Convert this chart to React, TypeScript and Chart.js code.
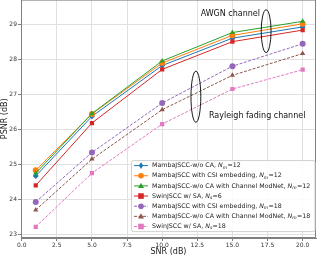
import React, { useEffect, useRef } from "react";
import { Chart, registerables } from "chart.js";
Chart.register(...registerables);

const snr = [1, 5, 10, 15, 20];
const mambaNoCA12 = [24.68, 26.38, 27.83, 28.61, 28.93];
const mambaCSI12 = [24.84, 26.45, 27.9, 28.69, 29.02];
const mambaModNet12 = [24.76, 26.46, 27.96, 28.77, 29.09];
const swin6 = [24.41, 26.19, 27.72, 28.51, 28.84];
const mambaCSI18 = [23.94, 25.35, 26.76, 27.81, 28.45];
const mambaModNet18 = [23.71, 25.16, 26.57, 27.55, 28.17];
const swin18 = [23.23, 24.76, 26.16, 27.16, 27.71];

const xTicks = [0, 2.5, 5, 7.5, 10, 12.5, 15, 17.5, 20];
const yTicks = [23, 24, 25, 26, 27, 28, 29];

const legendParts: [string, string, string][] = [
  ["MambaJSCC-w/o CA, ", "m", "=12"],
  ["MambaJSCC with CSI embedding, ", "m", "=12"],
  ["MambaJSCC-w/o CA with Channel ModNet, ", "m", "=12"],
  ["SwinJSCC w/ SA, ", "s", "=6"],
  ["MambaJSCC with CSI embedding, ", "m", "=18"],
  ["MambaJSCC-w/o CA with Channel ModNet, ", "m", "=18"],
  ["SwinJSCC w/ SA, ", "s", "=18"],
];

const seriesData = [mambaNoCA12, mambaCSI12, mambaModNet12, swin6, mambaCSI18, mambaModNet18, swin18];
const colors = ["#1f77b4", "#ff7f0e", "#2ca02c", "#d62728", "#9467bd", "#8c564b", "#e377c2"];
const markers = ["rectRot", "circle", "triangle", "rect", "circle", "triangle", "rect"];
const dashed = [false, false, false, false, true, true, true];

const FONT = '"DejaVu Sans", sans-serif';
const CANVAS_H = 262;

function drawMarker(ctx: CanvasRenderingContext2D, style: string, x: number, y: number, color: string) {
  ctx.save();
  ctx.fillStyle = color;
  ctx.strokeStyle = color;
  ctx.setLineDash([]);
  ctx.beginPath();
  if (style === "circle") {
    ctx.arc(x, y, 2.8, 0, Math.PI * 2);
  } else if (style === "rect") {
    ctx.rect(x - 2.8, y - 2.8, 5.6, 5.6);
  } else if (style === "triangle") {
    ctx.moveTo(x, y - 3.2);
    ctx.lineTo(x + 3, y + 2.2);
    ctx.lineTo(x - 3, y + 2.2);
    ctx.closePath();
  } else {
    ctx.moveTo(x, y - 3.3);
    ctx.lineTo(x + 2.2, y);
    ctx.lineTo(x, y + 3.3);
    ctx.lineTo(x - 2.2, y);
    ctx.closePath();
  }
  ctx.fill();
  ctx.restore();
}

const overlayPlugin = {
  id: "overlay",
  afterDatasetsDraw(chart: any) {
    const ctx: CanvasRenderingContext2D = chart.ctx;
    const { left, right, top, bottom } = chart.chartArea;
    const xs = chart.scales.x;
    const ys = chart.scales.y;
    const oy = top; // page y 0 == chart area top
    ctx.save();
    // frame
    ctx.strokeStyle = "#808080";
    ctx.lineWidth = 1;
    ctx.strokeRect(left + 0.5, top + 0.5, right - left - 1, bottom - top - 1);

    // ellipses
    ctx.strokeStyle = "#000";
    ctx.lineWidth = 0.9;
    const ell = (cx: number, cy: number, rx: number, ry: number) => {
      const px = xs.getPixelForValue(cx);
      const py = ys.getPixelForValue(cy);
      const rpx = Math.abs(xs.getPixelForValue(cx + rx) - px);
      const rpy = Math.abs(ys.getPixelForValue(cy + ry) - py);
      ctx.beginPath();
      ctx.ellipse(px, py, rpx, rpy, 0, 0, Math.PI * 2);
      ctx.stroke();
    };
    ell(17.4, 28.81, 0.35, 0.61);
    ell(12.4, 26.94, 0.35, 0.73);

    // annotations
    ctx.fillStyle = "#111";
    ctx.font = `8px ${FONT}`;
    ctx.textBaseline = "middle";
    ctx.textAlign = "left";
    ctx.fillText("AWGN channel", xs.getPixelForValue(12.74), ys.getPixelForValue(29.29));
    ctx.fillText("Rayleigh fading channel", xs.getPixelForValue(13.33), ys.getPixelForValue(26.38));

    // legend
    const bx = 131.5, by = 161 + oy, bw = 183.5, bh = 71;
    ctx.fillStyle = "rgba(255,255,255,0.85)";
    ctx.strokeStyle = "#d0d0d0";
    ctx.lineWidth = 1;
    ctx.beginPath();
    (ctx as any).roundRect(bx, by, bw, bh, 2);
    ctx.fill();
    ctx.stroke();

    for (let i = 0; i < legendParts.length; i++) {
      const y = 166 + oy + i * 10.15;
      ctx.strokeStyle = colors[i];
      ctx.lineWidth = 1;
      ctx.setLineDash(dashed[i] ? [3, 1.5] : []);
      ctx.beginPath();
      ctx.moveTo(134, y);
      ctx.lineTo(148, y);
      ctx.stroke();
      ctx.setLineDash([]);
      drawMarker(ctx, markers[i], 141, y, colors[i]);
      const [pre, sub, post] = legendParts[i];
      ctx.fillStyle = "#222";
      ctx.textBaseline = "middle";
      ctx.font = `6.3px ${FONT}`;
      let tx = 152;
      ctx.fillText(pre, tx, y);
      tx += ctx.measureText(pre).width;
      ctx.font = `italic 6.3px ${FONT}`;
      ctx.fillText("N", tx, y);
      tx += ctx.measureText("N").width;
      ctx.font = `italic 4.5px ${FONT}`;
      ctx.fillText(sub, tx, y + 1.8);
      tx += ctx.measureText(sub).width + 0.3;
      ctx.font = `6.3px ${FONT}`;
      ctx.fillText(post, tx, y);
    }
    ctx.restore();
  },
};

export default function App() {
  const ref = useRef<HTMLCanvasElement>(null);
  useEffect(() => {
    document.body.style.margin = "0";
    const datasets = seriesData.map((d, i) => ({
      label: legendParts[i].join(""),
      data: snr.map((x, j) => ({ x, y: d[j] })),
      borderColor: colors[i],
      backgroundColor: colors[i],
      borderWidth: 1,
      borderDash: dashed[i] ? [3, 1.5] : [],
      pointStyle: markers[i] as any,
      pointRadius: 3,
      pointBorderWidth: 0,
      pointBackgroundColor: colors[i],
      tension: 0,
      order: 10 - i,
    }));
    const chart = new Chart(ref.current!, {
      type: "line",
      data: { datasets },
      options: {
        animation: false,
        responsive: false,
        layout: { padding: { top: 0, right: 3, left: 0, bottom: 0 } },
        plugins: { legend: { display: false }, tooltip: { enabled: false } },
        scales: {
          x: {
            type: "linear",
            min: -0.05,
            max: 20.95,
            afterBuildTicks: (s: any) => {
              s.ticks = xTicks.map((v) => ({ value: v }));
            },
            afterFit: (s: any) => {
              s.height = 19;
            },
            ticks: {
              font: { size: 6, family: FONT },
              color: "#333",
              padding: 1,
              maxRotation: 0,
              autoSkip: false,
              callback: (v: any) => Number(v).toFixed(1),
            },
            grid: { color: "#e0e0e0", tickLength: 3, tickColor: "#808080" },
            border: { display: true, color: "#808080" },
            title: { display: true, text: "SNR (dB)", font: { size: 8, family: FONT }, color: "#222", padding: 0 },
          },
          y: {
            type: "linear",
            min: 22.91,
            max: 29.71,
            afterBuildTicks: (s: any) => {
              s.ticks = yTicks.map((v) => ({ value: v }));
            },
            afterFit: (s: any) => {
              s.width = 21;
            },
            ticks: {
              font: { size: 6, family: FONT },
              color: "#333",
              padding: 1,
              autoSkip: false,
              callback: (v: any) => String(v),
            },
            grid: { color: "#e0e0e0", tickLength: 3, tickColor: "#808080" },
            border: { display: true, color: "#808080" },
            title: { display: true, text: "PSNR (dB)", font: { size: 8, family: FONT }, color: "#222", padding: 0 },
          },
        },
      },
      plugins: [overlayPlugin],
    });
    const t = Math.round(chart.chartArea.top);
    ref.current!.style.top = `${-t}px`;
    return () => chart.destroy();
  }, []);
  return (
    <div style={{ position: "absolute", left: 0, top: 0, width: 320, height: 257, overflow: "hidden" }}>
      <canvas
        ref={ref}
        width={320}
        height={CANVAS_H}
        style={{ position: "absolute", left: 0, top: 0, width: 320, height: CANVAS_H }}
      />
    </div>
  );
}
